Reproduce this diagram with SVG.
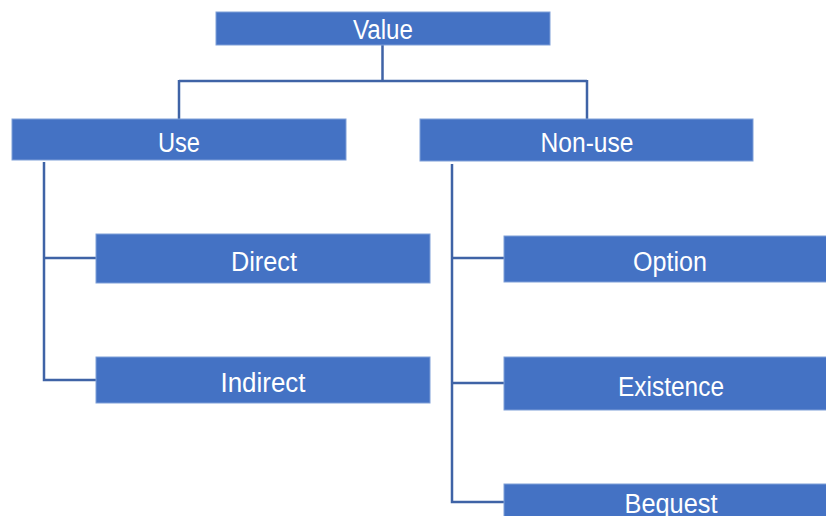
<svg xmlns="http://www.w3.org/2000/svg" width="826" height="516" viewBox="0 0 826 516">
<style>
.box{fill:#4472C4;stroke:#7F9FD8;stroke-width:1}
.lbl{fill:#FFFFFF;font-family:"Liberation Sans","DejaVu Sans",sans-serif;font-size:27px;text-anchor:middle}
.conn{fill:none;stroke:#3F63A6;stroke-width:2.5}
</style>
<rect width="826" height="516" fill="#FFFFFF"/>
<g id="connectors">
<path class="conn" d="M382.5 45 V81 M179 81 H587 M179 80 V119 M587 80 V119"/>
<path class="conn" d="M44 162 V380 H96 M44 258 H96"/>
<path class="conn" d="M452 164 V502 H504 M452 258 H504 M452 383 H504"/>
</g>
<g id="value"><rect class="box" x="216" y="12" width="334" height="33"/><text class="lbl" x="383" y="39" textLength="60" lengthAdjust="spacingAndGlyphs">Value</text></g>
<g id="use"><rect class="box" x="12" y="119" width="334" height="41"/><text class="lbl" x="179" y="152" textLength="42" lengthAdjust="spacingAndGlyphs">Use</text></g>
<g id="nonuse"><rect class="box" x="420" y="119" width="333" height="42"/><text class="lbl" x="587" y="152" textLength="93" lengthAdjust="spacingAndGlyphs">Non-use</text></g>
<g id="direct"><rect class="box" x="96" y="234" width="334" height="49"/><text class="lbl" x="264" y="271" textLength="66" lengthAdjust="spacingAndGlyphs">Direct</text></g>
<g id="indirect"><rect class="box" x="96" y="357" width="334" height="46"/><text class="lbl" x="263" y="392" textLength="85" lengthAdjust="spacingAndGlyphs">Indirect</text></g>
<g id="option"><rect class="box" x="504" y="236" width="334" height="46"/><text class="lbl" x="670" y="271" textLength="74" lengthAdjust="spacingAndGlyphs">Option</text></g>
<g id="existence"><rect class="box" x="504" y="357" width="334" height="53"/><text class="lbl" x="671" y="396" textLength="106" lengthAdjust="spacingAndGlyphs">Existence</text></g>
<g id="bequest"><rect class="box" x="504" y="484" width="334" height="40"/><text class="lbl" x="671" y="513" textLength="93" lengthAdjust="spacingAndGlyphs">Bequest</text></g>
</svg>
